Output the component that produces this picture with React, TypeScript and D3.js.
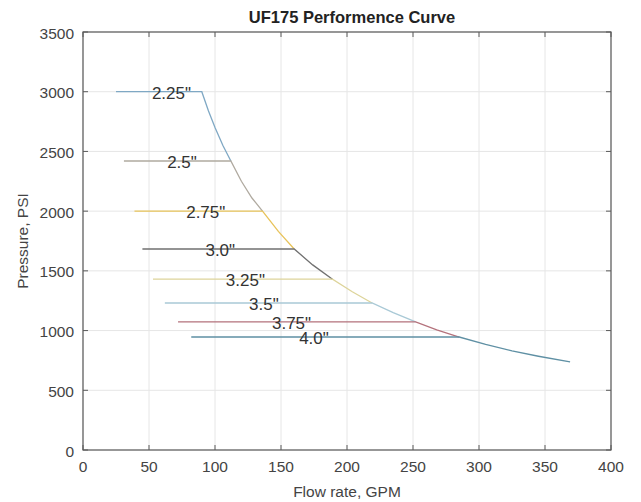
import React from "react";
import * as d3 from "d3";

const xTicks = [0, 50, 100, 150, 200, 250, 300, 350, 400];
const yTicks = [0, 500, 1000, 1500, 2000, 2500, 3000, 3500];

// performance curve
const curveFlow = [90, 95, 100, 106, 112, 120, 128, 136, 148, 160, 174, 189, 204, 219, 235, 252, 268, 285, 305, 325, 345, 369];
const curvePressure = [3000, 2840, 2700, 2550, 2420, 2250, 2110, 2000, 1830, 1683, 1550, 1430, 1325, 1231, 1150, 1072, 1005, 946, 885, 830, 785, 737];

// nozzle size lines
const sizeLabels = ['2.25"', '2.5"', '2.75"', '3.0"', '3.25"', '3.5"', '3.75"', '4.0"'];
const sizePressure = [3000, 2420, 2000, 1683, 1430, 1231, 1072, 946];
const sizeStartFlow = [25, 31, 39, 45, 53, 62, 72, 82];
const sizeEndFlow = [90, 112, 136, 160, 189, 219, 252, 285];
const sizeLabelFlow = [67, 75, 93, 104, 123, 137, 158, 175];
const sizeColors = ["#7fa8c4", "#b0aaa0", "#e8c35a", "#707070", "#ddd49a", "#a9c9d6", "#b4727c", "#5f90a4"];

const W = 641, H = 502;
const L = 83, R = 611, T = 32, B = 450;

export default function App() {
  const x = d3.scaleLinear().domain([0, 400]).range([L, R]);
  const y = d3.scaleLinear().domain([0, 3500]).range([B, T]);
  const line = d3.line<[number, number]>().x(d => x(d[0])).y(d => y(d[1]));
  const curve: [number, number][] = curveFlow.map((q, i) => [q, curvePressure[i]]);
  const font = "'Liberation Sans', Arial, Helvetica, sans-serif";

  return (
    <svg width={W} height={H} style={{ position: "absolute", left: 0, top: 0, background: "#fff" }} fontFamily={font}>
      {/* grid */}
      {xTicks.map(t => (
        <line key={"gx" + t} x1={x(t)} x2={x(t)} y1={T} y2={B} stroke="#e6e6e6" strokeWidth={1} />
      ))}
      {yTicks.map(t => (
        <line key={"gy" + t} x1={L} x2={R} y1={y(t)} y2={y(t)} stroke="#e6e6e6" strokeWidth={1} />
      ))}
      {/* series */}
      {sizeLabels.map((lab, i) => {
        const endF = sizeEndFlow[i];
        const nextF = i < sizeLabels.length - 1 ? sizeEndFlow[i + 1] : Infinity;
        const seg: [number, number][] = [[sizeStartFlow[i], sizePressure[i]], [endF, sizePressure[i]]];
        curve.forEach(p => {
          if (p[0] > endF && p[0] <= nextF) seg.push(p);
        });
        return (
          <path key={"s" + i} d={line(seg) || ""} fill="none" stroke={sizeColors[i]} strokeWidth={1.3} />
        );
      })}
      {/* labels */}
      {sizeLabels.map((lab, i) => (
        <text key={"l" + i} x={x(sizeLabelFlow[i])} y={y(sizePressure[i]) + 1.5} textAnchor="middle" dominantBaseline="central" fontSize={17} fill="#333">{lab}</text>
      ))}
      {/* frame */}
      <rect x={L} y={T} width={R - L} height={B - T} fill="none" stroke="#5a5a5a" strokeWidth={1.2} />
      {xTicks.map(t => (
        <g key={"tx" + t}>
          <line x1={x(t)} x2={x(t)} y1={B} y2={B - 5} stroke="#5a5a5a" />
          <line x1={x(t)} x2={x(t)} y1={T} y2={T + 5} stroke="#5a5a5a" />
          <text x={x(t)} y={B + 22} textAnchor="middle" fontSize={15.5} fill="#444">{t}</text>
        </g>
      ))}
      {yTicks.map(t => (
        <g key={"ty" + t}>
          <line x1={L} x2={L + 5} y1={y(t)} y2={y(t)} stroke="#5a5a5a" />
          <line x1={R} x2={R - 5} y1={y(t)} y2={y(t)} stroke="#5a5a5a" />
          <text x={L - 9} y={y(t) + 1} textAnchor="end" dominantBaseline="central" fontSize={15.5} fill="#444">{t}</text>
        </g>
      ))}
      <text x={(L + R) / 2 + 5} y={23} textAnchor="middle" fontSize={16.5} fontWeight="bold" fill="#222">UF175 Performence Curve</text>
      <text x={(L + R) / 2} y={497} textAnchor="middle" fontSize={15.5} fill="#444">Flow rate, GPM</text>
      <text transform={`translate(28,${(T + B) / 2}) rotate(-90)`} textAnchor="middle" fontSize={15.5} fill="#444">Pressure, PSI</text>
    </svg>
  );
}
